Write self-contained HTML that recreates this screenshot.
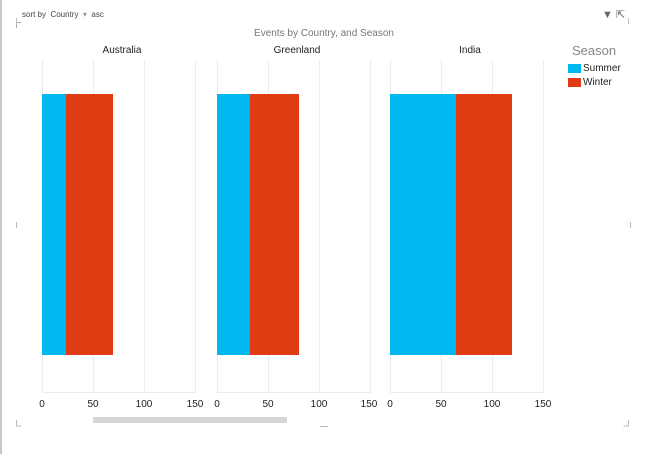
<!DOCTYPE html>
<html><head><style>
body{margin:0;width:658px;height:454px;background:#fff;position:relative;overflow:hidden;font-family:"Liberation Sans","DejaVu Sans",sans-serif;}
.a{position:absolute;}
.t{position:absolute;font-size:10px;color:#222;transform:translateX(-50%);white-space:nowrap}
</style></head><body>
<div class="a" style="left:0;top:0;width:2px;height:454px;background:#c8c8c8"></div>
<div class="a" style="left:22px;top:10px;font-size:8px;color:#444">sort by &nbsp;Country &nbsp;<span style="color:#999">▾</span>&nbsp; asc</div>
<div class="a" style="left:16px;top:22px;width:4px;height:5px;border-left:1px solid #aaa;border-top:1px solid #aaa"></div>
<div class="a" style="left:602px;top:8px;font-size:11px;color:#666">▼ ⇱</div>
<div class="t" style="left:324px;top:28px;font-size:10px;color:#777">Events by Country, and Season</div>
<div class="t" style="left:122px;top:45px">Australia</div>
<div class="t" style="left:297px;top:45px">Greenland</div>
<div class="t" style="left:470px;top:45px">India</div>
<div class="a" style="left:572px;top:43px;font-size:13px;color:#888">Season</div>
<div class="a" style="left:568px;top:64px;width:13px;height:9px;background:#01b8f0"></div>
<div class="a" style="left:583px;top:63px;font-size:10px;color:#222">Summer</div>
<div class="a" style="left:568px;top:78px;width:13px;height:9px;background:#e03c14"></div>
<div class="a" style="left:583px;top:77px;font-size:10px;color:#222">Winter</div>
<svg class="a" style="left:0;top:0" width="658" height="454">
<g stroke="#ececec" stroke-width="1">
<line x1="42.5" y1="60" x2="42.5" y2="392"/><line x1="93.5" y1="60" x2="93.5" y2="392"/><line x1="144.5" y1="60" x2="144.5" y2="392"/><line x1="195.5" y1="60" x2="195.5" y2="392"/>
<line x1="217.5" y1="60" x2="217.5" y2="392"/><line x1="268.5" y1="60" x2="268.5" y2="392"/><line x1="319.5" y1="60" x2="319.5" y2="392"/><line x1="370.5" y1="60" x2="370.5" y2="392"/>
<line x1="390.5" y1="60" x2="390.5" y2="392"/><line x1="441.5" y1="60" x2="441.5" y2="392"/><line x1="492.5" y1="60" x2="492.5" y2="392"/><line x1="543.5" y1="60" x2="543.5" y2="392"/>
<line x1="42" y1="392.5" x2="196" y2="392.5"/><line x1="217" y1="392.5" x2="371" y2="392.5"/><line x1="390" y1="392.5" x2="544" y2="392.5"/>
</g>
<rect x="42" y="94" width="24" height="261" fill="#01b8f0"/><rect x="66" y="94" width="47" height="261" fill="#e03c14"/>
<rect x="217" y="94" width="33" height="261" fill="#01b8f0"/><rect x="250" y="94" width="49" height="261" fill="#e03c14"/>
<rect x="390" y="94" width="66" height="261" fill="#01b8f0"/><rect x="456" y="94" width="56" height="261" fill="#e03c14"/>
<rect x="93" y="417" width="194" height="6" fill="#d6d6d6"/>
<g stroke="#bbb" fill="none"><path d="M16.5 420v6h5M628.5 420v6h-5M320 426.5h8M16.5 222v6M630.5 222v6M16.5 18v6M628.5 18v6"/></g>
</svg>
<div class="t" style="left:42px;top:399px">0</div><div class="t" style="left:93px;top:399px">50</div><div class="t" style="left:144px;top:399px">100</div><div class="t" style="left:195px;top:399px">150</div>
<div class="t" style="left:217px;top:399px">0</div><div class="t" style="left:268px;top:399px">50</div><div class="t" style="left:319px;top:399px">100</div><div class="t" style="left:369px;top:399px">150</div>
<div class="t" style="left:390px;top:399px">0</div><div class="t" style="left:441px;top:399px">50</div><div class="t" style="left:492px;top:399px">100</div><div class="t" style="left:543px;top:399px">150</div>
</body></html>
